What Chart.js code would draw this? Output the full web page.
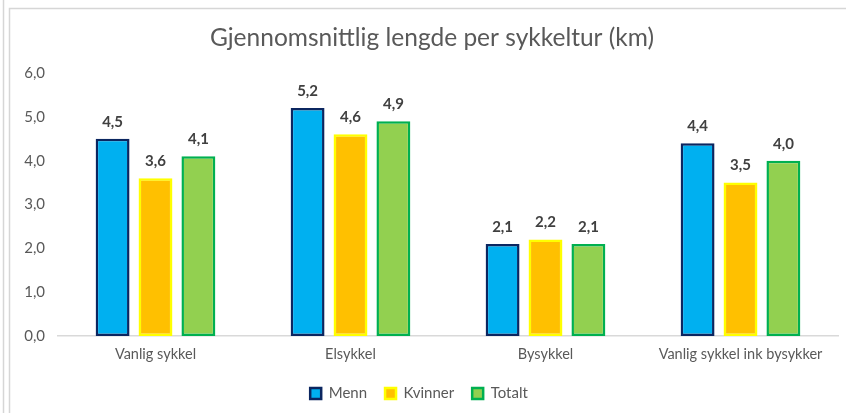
<!DOCTYPE html>
<html>
<head>
<meta charset="utf-8">
<script src="https://cdn.jsdelivr.net/npm/chart.js@4"></script>
<style>
  html, body { margin: 0; padding: 0; background: #fff; }
  #wrap { position: relative; width: 846px; height: 413px; }
</style>
</head>
<body>
<div id="wrap"><canvas id="chart"></canvas></div>
<script>
const categories = ["Vanlig sykkel", "Elsykkel", "Bysykkel", "Vanlig sykkel ink bysykker"];
const menn = [4.5, 5.2, 2.1, 4.4];
const kvinner = [3.6, 4.6, 2.2, 3.5];
const totalt = [4.1, 4.9, 2.1, 4.0];
const yMin = 0;
const yMax = 6;
const yStep = 1;
const titleText = "Gjennomsnittlig lengde per sykkeltur (km)";

const FONT = "Lato, 'Open Sans', sans-serif";
const GREY = "#595959";

function fmt(v) {
  return v.toFixed(1).replace(".", ",");
}

// light grey frame like the pasted slide
const framePlugin = {
  id: "frame",
  beforeDraw(chart) {
    const ctx = chart.ctx;
    ctx.save();
    ctx.strokeStyle = "#d6d6d6";
    ctx.lineWidth = 1.5;
    ctx.beginPath();
    ctx.moveTo(3.5, 0);
    ctx.lineTo(3.5, chart.height);
    ctx.moveTo(9.5, chart.height);
    ctx.lineTo(9.5, 8.5);
    ctx.lineTo(chart.width, 8.5);
    ctx.stroke();
    ctx.restore();
  },
};

// title is centred on the original (wider) chart frame, not the canvas
const titlePlugin = {
  id: "offsetTitle",
  afterDraw(chart) {
    const ctx = chart.ctx;
    ctx.save();
    ctx.font = `24.5px ${FONT}`;
    ctx.fillStyle = GREY;
    ctx.textAlign = "center";
    ctx.textBaseline = "middle";
    ctx.fillText(titleText, chart.width / 2 + 9, 38);
    ctx.restore();
  },
};

const valueLabels = {
  id: "valueLabels",
  afterDatasetsDraw(chart) {
    const ctx = chart.ctx;
    ctx.save();
    ctx.font = `bold 15px ${FONT}`;
    ctx.fillStyle = "#404040";
    ctx.textAlign = "center";
    ctx.textBaseline = "middle";
    chart.data.datasets.forEach((ds, i) => {
      chart.getDatasetMeta(i).data.forEach((bar, j) => {
        ctx.fillText(fmt(ds.data[j]), bar.x, bar.y - 17);
      });
    });
    ctx.restore();
  },
};

const ctx = document.getElementById("chart").getContext("2d");

new Chart(ctx, {
  type: "bar",
  data: {
    labels: categories,
    datasets: [
      {
        label: "Menn",
        data: menn,
        backgroundColor: "#00B0F0",
        borderColor: "#0B2660",
        borderWidth: 2.5,
        borderSkipped: false,
      },
      {
        label: "Kvinner",
        data: kvinner,
        backgroundColor: "#FFC000",
        borderColor: "#FFFF00",
        borderWidth: 2.5,
        borderSkipped: false,
      },
      {
        label: "Totalt",
        data: totalt,
        backgroundColor: "#92D050",
        borderColor: "#00B050",
        borderWidth: 2.5,
        borderSkipped: false,
      },
    ],
  },
  options: {
    responsive: true,
    maintainAspectRatio: false,
    animation: false,
    categoryPercentage: 0.66,
    barPercentage: 0.79,
    layout: {
      padding: { top: 73, right: 8, bottom: 2, left: 0 },
    },
    scales: {
      x: {
        grid: { display: false, drawTicks: false },
        border: { color: "#d9d9d9", width: 1.5 },
        ticks: {
          color: GREY,
          font: { family: FONT, size: 14.5 },
          padding: 10,
        },
        afterFit(scale) {
          scale.height = 32;
        },
      },
      y: {
        min: yMin,
        max: yMax,
        grid: { display: false, drawTicks: false },
        border: { display: false },
        ticks: {
          stepSize: yStep,
          color: GREY,
          font: { family: FONT, size: 15 },
          padding: 13,
          callback: (v) => fmt(v),
        },
        afterFit(scale) {
          scale.width = 58;
        },
      },
    },
    plugins: {
      title: { display: false },
      legend: {
        position: "bottom",
        labels: {
          color: GREY,
          font: { family: FONT, size: 15 },
          boxWidth: 11,
          boxHeight: 11,
          padding: 18,
        },
      },
      tooltip: { enabled: false },
    },
  },
  plugins: [framePlugin, titlePlugin, valueLabels],
});
</script>
</body>
</html>
